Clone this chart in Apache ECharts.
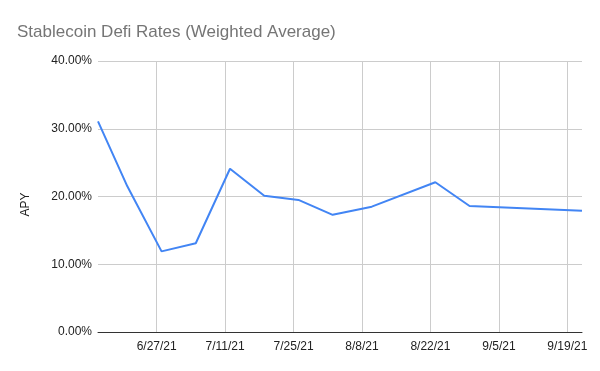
<!DOCTYPE html>
<html>
<head>
<meta charset="utf-8">
<script src="https://cdn.jsdelivr.net/npm/echarts@6/dist/echarts.min.js"></script>
<style>html,body{margin:0;padding:0;background:#fff}#c{width:600px;height:371px}</style>
</head>
<body>
<div id="c"></div>
<script>
var dates = ['6/15/21','6/21/21','6/28/21','7/5/21','7/12/21','7/19/21','7/26/21','8/2/21','8/10/21','8/23/21','8/30/21','9/22/21'];
var apy = [31.1, 21.5, 11.9, 13.1, 24.1, 20.1, 19.5, 17.3, 18.5, 22.1, 18.6, 17.9];
var xTickLabels = ['6/27/21','7/11/21','7/25/21','8/8/21','8/22/21','9/5/21','9/19/21'];
var yTicks = [0, 10, 20, 30, 40];

function toDay(s){var p=s.split('/');return Date.UTC(2000+ +p[2], +p[0]-1, +p[1])/86400000;}
var ref = toDay(xTickLabels[0]);
function fromOffset(o){var d=new Date((ref+o)*86400000);return (d.getUTCMonth()+1)+'/'+d.getUTCDate()+'/'+String(d.getUTCFullYear()).slice(2);}
var pts = dates.map(function(d,i){return [toDay(d)-ref, apy[i]];});
var xTickVals = xTickLabels.map(function(s){return toDay(s)-ref;});

var FONT = '"Liberation Sans", Arial, sans-serif';
var chart = echarts.init(document.getElementById('c'), null, {renderer:'canvas'});
chart.setOption({
  animation:false,
  title:{text:'Stablecoin Defi Rates (Weighted Average)', left:12, top:19,
    textStyle:{fontFamily:FONT, fontSize:17, fontWeight:'normal', color:'#757575'}},
  grid:{left:98, right:18, top:61, bottom:39, containLabel:false},
  xAxis:{type:'value', min:pts[0][0], max:pts[pts.length-1][0],
    axisLine:{show:true, lineStyle:{color:'#333', width:1}},
    axisTick:{show:false, customValues:xTickVals},
    axisLabel:{show:true, color:'#222', fontFamily:FONT, fontSize:12, margin:9,
      customValues:xTickVals,
      formatter:function(v){return fromOffset(Math.round(v));}},
    splitLine:{show:true, showMinLine:true, showMaxLine:true, lineStyle:{color:'#cccccc', width:1}}
  },
  yAxis:{type:'value', min:yTicks[0], max:yTicks[yTicks.length-1], interval:10,
    name:'APY', nameLocation:'middle', nameGap:66, nameRotate:90,
    nameTextStyle:{color:'#222', fontFamily:FONT, fontSize:12, padding:[0,16,0,0]},
    axisLine:{show:false}, axisTick:{show:false},
    axisLabel:{color:'#222', fontFamily:FONT, fontSize:12, margin:6,
      formatter:function(v){return v.toFixed(2)+'%';}},
    splitLine:{show:true, lineStyle:{color:'#cccccc', width:1}}
  },
  series:[{type:'line', data:pts, showSymbol:false, symbol:'none',
    lineStyle:{color:'#4285F4', width:2}, itemStyle:{color:'#4285F4'}}]
});
</script>
</body>
</html>
